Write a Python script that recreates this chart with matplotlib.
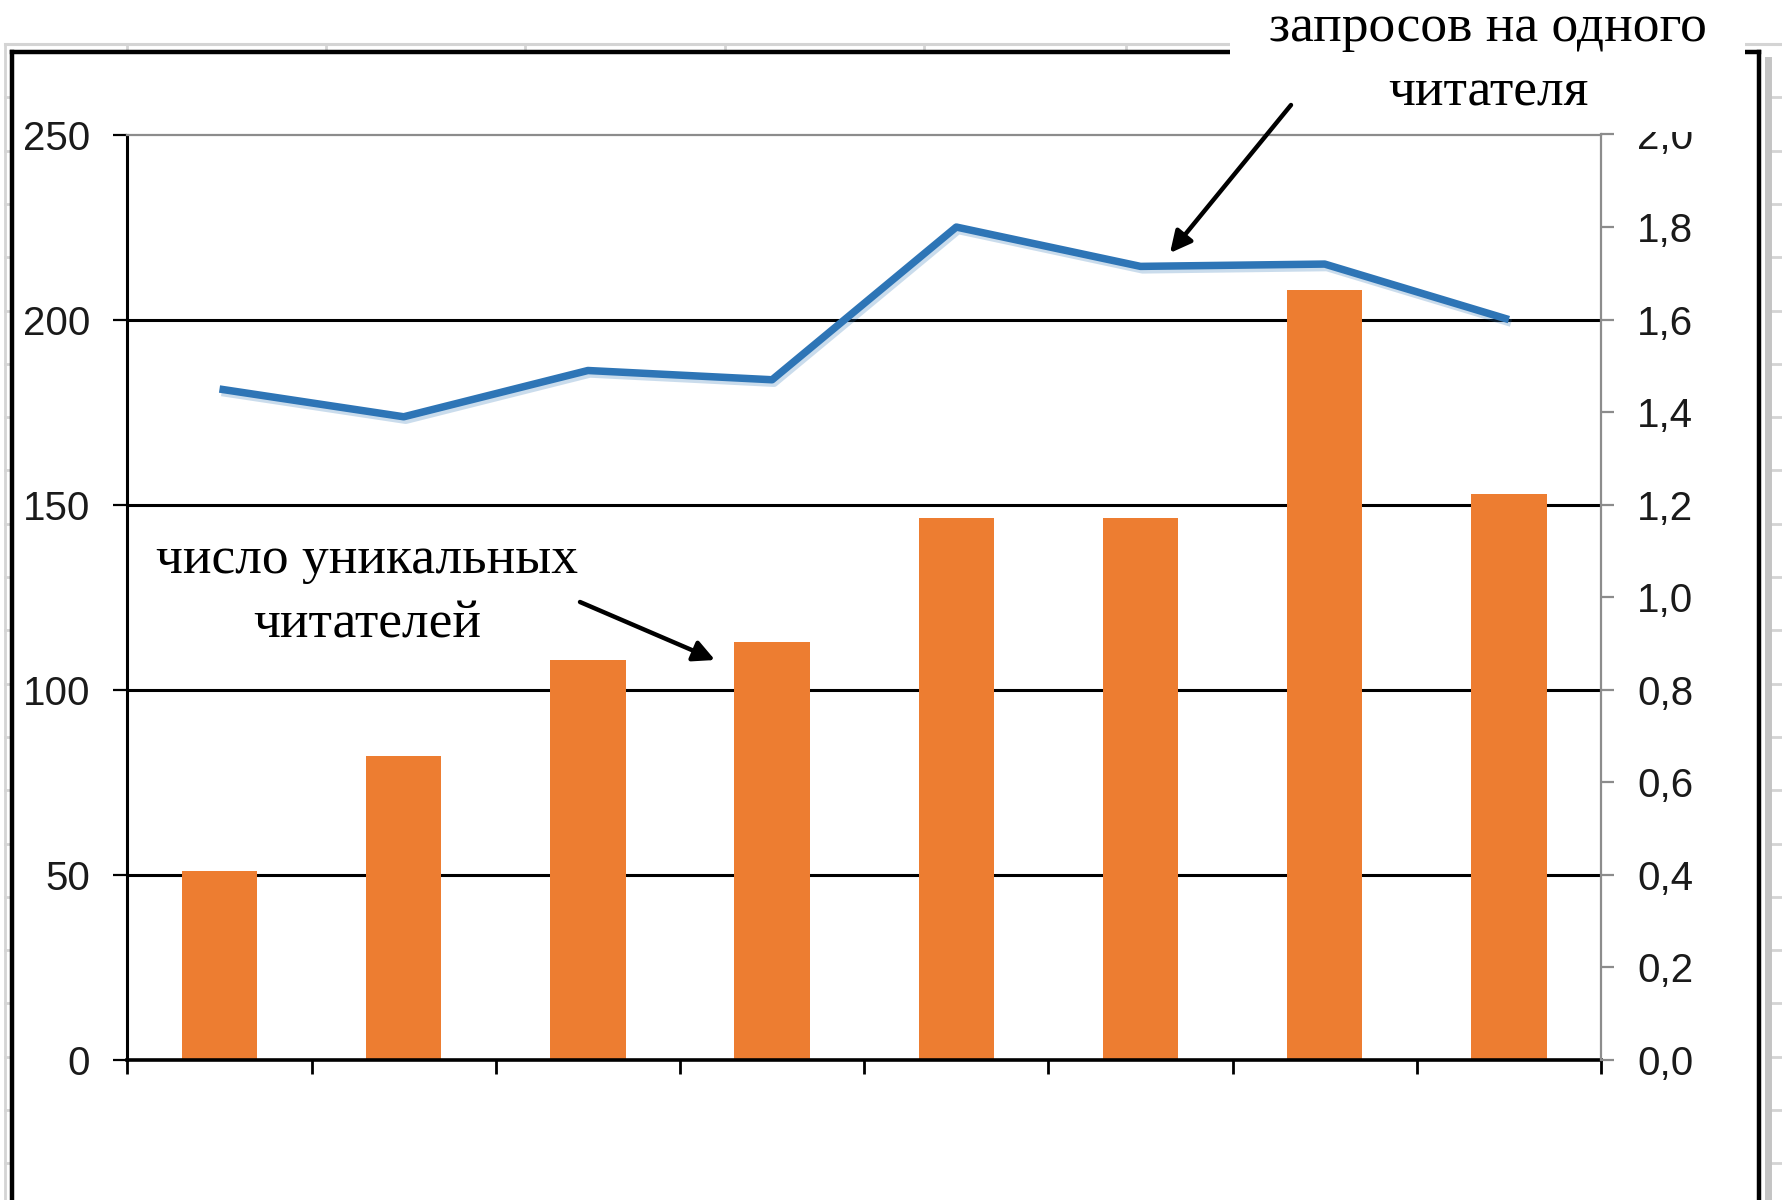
import numpy as np
import matplotlib
matplotlib.use("Agg")
import matplotlib.pyplot as plt
from matplotlib.patches import Rectangle, FancyArrowPatch
from matplotlib.lines import Line2D
import matplotlib.patheffects as pe

# ---------------- data ----------------
categories = ["1", "2", "3", "4", "5", "6", "7", "8"]   # category labels are not shown in the picture
readers = [51, 82, 108, 113, 146.5, 146.5, 208, 153]    # число уникальных читателей (left axis)
requests_per_reader = [1.45, 1.39, 1.49, 1.47, 1.80, 1.715, 1.72, 1.60]  # запросов на одного читателя (right axis)
left_ticks = [0, 50, 100, 150, 200, 250]
right_ticks = [0.0, 0.2, 0.4, 0.6, 0.8, 1.0, 1.2, 1.4, 1.6, 1.8, 2.0]
right_labels = ["0,0", "0,2", "0,4", "0,6", "0,8", "1,0", "1,2", "1,4", "1,6", "1,8", "2,0"]
note_readers = "число уникальных\nчитателей"
note_requests = "запросов на одного\nчитателя"

W, H = 1783, 1200
def fx(x): return x / W
def fy(y): return 1 - y / H

SANS = ["Liberation Sans", "DejaVu Sans"]
SERIF = ["Liberation Serif", "DejaVu Serif"]

fig = plt.figure(figsize=(W / 100, H / 100), dpi=100)
fig.patch.set_facecolor("white")

# ---------------- main axes ----------------
ax = fig.add_axes([fx(127.4), fy(1060), fx(1601) - fx(127.4), fy(134.5) - fy(1060)])
x = np.arange(len(categories))
ax.bar(x, readers, width=0.41, color="#ED7D31", zorder=3)
ax.set_xlim(-0.5, len(categories) - 0.5)
ax.set_ylim(left_ticks[0], left_ticks[-1])
for v in left_ticks[1:-1]:
    ax.axhline(v, color="black", lw=2.2, zorder=1)

ax.spines["left"].set_color("black")
ax.spines["left"].set_linewidth(2.2)
ax.spines["bottom"].set_color("black")
ax.spines["bottom"].set_linewidth(2.6)
ax.spines["bottom"].set_zorder(4)
ax.spines["top"].set_color("#8C8C8C")
ax.spines["top"].set_linewidth(1.6)
ax.spines["right"].set_visible(False)

ax.set_xticks(np.arange(-0.5, len(categories), 1.0))
ax.set_xticklabels([])
ax.tick_params(axis="x", direction="out", length=10, width=2, color="black")
ax.set_yticks(left_ticks)
ax.set_yticklabels([str(v) for v in left_ticks], fontfamily=SANS)
ax.tick_params(axis="y", direction="out", length=10, width=1.6, color="black",
               pad=17, labelsize=29, labelcolor="#1a1a1a")

# ---------------- secondary axis ----------------
ax2 = ax.twinx()
ax2.set_ylim(right_ticks[0], right_ticks[-1])
ax2.plot(x, requests_per_reader, color="#2E75B6", lw=5.4, solid_joinstyle="round",
         solid_capstyle="butt", zorder=5,
         path_effects=[pe.SimpleLineShadow(offset=(1.5, -2.5), shadow_color="#2E75B6", alpha=0.25),
                       pe.Normal()])
for s in ["left", "top", "bottom"]:
    ax2.spines[s].set_visible(False)
ax2.spines["right"].set_color("#8C8C8C")
ax2.spines["right"].set_linewidth(1.6)
ax2.set_yticks(right_ticks)
ax2.set_yticklabels(right_labels, fontfamily=SANS)
ax2.tick_params(axis="y", direction="out", length=9, width=1.6, color="#8C8C8C",
                pad=17, labelsize=29, labelcolor="#1a1a1a")

# ---------------- sheet decoration (cell grid, frame) ----------------
grey = "#D4D4D4"
rows = [44 + 53.3 * k for k in range(1, 23)]
cols = [127, 326, 525, 725, 924, 1126, 1326, 1526, 1726]
fig.add_artist(Line2D([fx(5), fx(W)], [fy(44), fy(44)], color=grey, lw=2.2, transform=fig.transFigure, zorder=2))
fig.add_artist(Line2D([fx(5), fx(5)], [fy(44), fy(H)], color=grey, lw=2.0, transform=fig.transFigure, zorder=2))
for r in rows:
    if r < H:
        fig.add_artist(Line2D([fx(5), fx(12)], [fy(r), fy(r)], color=grey, lw=2.0, transform=fig.transFigure, zorder=2))
        fig.add_artist(Line2D([fx(1766), fx(W)], [fy(r), fy(r)], color=grey, lw=2.0, transform=fig.transFigure, zorder=2))
for c in cols:
    fig.add_artist(Line2D([fx(c), fx(c)], [fy(44), fy(52)], color=grey, lw=2.0, transform=fig.transFigure, zorder=2))
# shadow on the right of the frame
fig.add_artist(Line2D([fx(1768), fx(1768)], [fy(60), fy(H)], color="#C4C4C4", lw=5, transform=fig.transFigure, zorder=2))
# frame
frame_kw = dict(color="black", lw=3.2, transform=fig.transFigure, zorder=3, solid_capstyle="projecting")
fig.add_artist(Line2D([fx(12), fx(1759)], [fy(52), fy(52)], **frame_kw))
fig.add_artist(Line2D([fx(12), fx(12)], [fy(52), fy(H + 5)], **frame_kw))
fig.add_artist(Line2D([fx(1759), fx(1759)], [fy(52), fy(H + 5)], **frame_kw))

# white text box for the line annotation
fig.add_artist(Rectangle((fx(1230), fy(132)), fx(1745) - fx(1230), fy(0) - fy(132),
                         facecolor="white", edgecolor="none", transform=fig.transFigure, zorder=5))

# ---------------- annotations ----------------
fig.text(fx(367), fy(592), note_readers, ha="center", va="center", fontsize=38.5,
         fontfamily=SERIF, color="black", linespacing=1.45, zorder=6)
fig.text(fx(1488), fy(60), note_requests, ha="center", va="center", fontsize=38.5,
         fontfamily=SERIF, color="black", linespacing=1.45, zorder=6)

arrow_kw = dict(arrowstyle="-|>", mutation_scale=32, lw=3.2, color="black",
                shrinkA=0, shrinkB=0, transform=fig.transFigure, zorder=7)
fig.add_artist(FancyArrowPatch((fx(580), fy(602)), (fx(715), fy(660)), **arrow_kw))
fig.add_artist(FancyArrowPatch((fx(1291), fy(105)), (fx(1170), fy(253)), **arrow_kw))

fig.savefig("out.png", dpi=100, facecolor="white")
